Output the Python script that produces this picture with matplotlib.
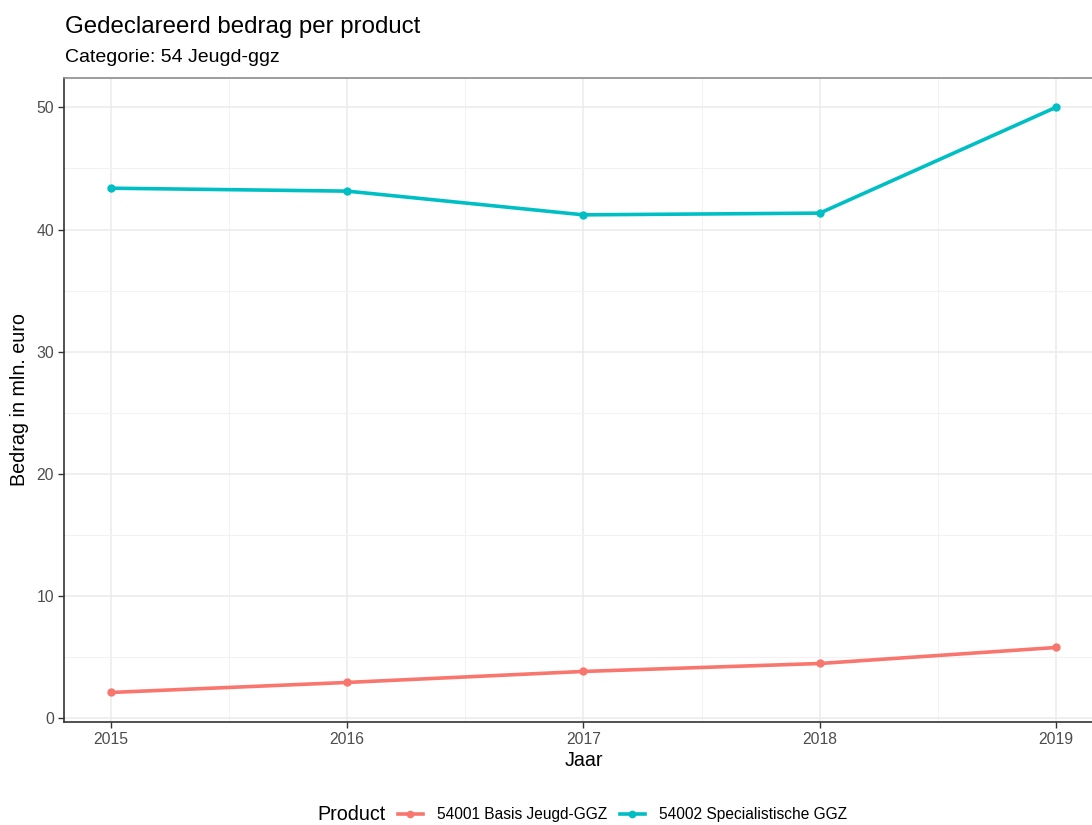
import matplotlib
matplotlib.use('Agg')
import matplotlib.pyplot as plt
from matplotlib.lines import Line2D

# data
jaren = [2015, 2016, 2017, 2018, 2019]
basis_jeugd_ggz = [2.12, 2.94, 3.84, 4.49, 5.80]
specialistische_ggz = [43.38, 43.14, 41.20, 41.34, 50.00]
productnamen = ['54001 Basis Jeugd-GGZ', '54002 Specialistische GGZ']
kleuren = ['#F8766D', '#00BFC4']

plt.rcParams['font.family'] = ['Liberation Sans', 'DejaVu Sans']

fig = plt.figure(figsize=(10.92, 8.25), dpi=100)
# panel deliberately runs past the right edge, as in the reference
ax = fig.add_axes([0.0583, 0.1248, 0.952, 0.7807])

for waarden, kleur in zip([basis_jeugd_ggz, specialistische_ggz], kleuren):
    ax.plot(jaren, waarden, color=kleur, lw=2.6, marker='o', ms=5, zorder=3,
            solid_capstyle='butt')

ax.set_xlim(2015 - 0.2, 2019 + 0.2)
ax.set_ylim(-0.3, 52.4)
ax.set_xticks(jaren)
ax.set_xticks([2015.5, 2016.5, 2017.5, 2018.5], minor=True)
ax.set_yticks([0, 10, 20, 30, 40, 50])
ax.set_yticks([5, 15, 25, 35, 45], minor=True)

ax.grid(which='major', color='#EBEBEB', lw=1.1, zorder=0)
ax.grid(which='minor', color='#F2F2F2', lw=0.8, zorder=0)
ax.set_axisbelow(True)

ax.tick_params(which='major', direction='out', length=4, width=1.0,
               color='#333333', labelcolor='#4D4D4D', labelsize=11.3, pad=3)
ax.tick_params(which='minor', length=0)

ax.spines['top'].set_color('#8C8C8C')
ax.spines['top'].set_linewidth(1.2)
ax.spines['right'].set_visible(False)
for s in ['left', 'bottom']:
    ax.spines[s].set_color('#333333')
    ax.spines[s].set_linewidth(1.2)

ax.set_xlabel('Jaar', fontsize=14.2, labelpad=3)
ax.set_ylabel('Bedrag in mln. euro', fontsize=14.2, labelpad=5)

fig.text(0.0595, 0.960, 'Gedeclareerd bedrag per product', fontsize=17.3,
         va='baseline', ha='left')
fig.text(0.0595, 0.925, 'Categorie: 54 Jeugd-ggz', fontsize=14,
         va='baseline', ha='left')

# legend at the bottom
handles = [Line2D([0], [0], color=k, lw=2.6, marker='o', ms=4.5) for k in kleuren]
fig.text(0.2903, 0.0125, 'Product', fontsize=14.2, ha='left', va='center')
fig.legend(handles, productnamen, ncol=2, frameon=False, fontsize=11.2,
           loc='center left', bbox_to_anchor=(0.3645, 0.0125), handlelength=1.6,
           handletextpad=0.9, columnspacing=0.8, borderpad=0, borderaxespad=0)

fig.savefig('out.png', dpi=100)
